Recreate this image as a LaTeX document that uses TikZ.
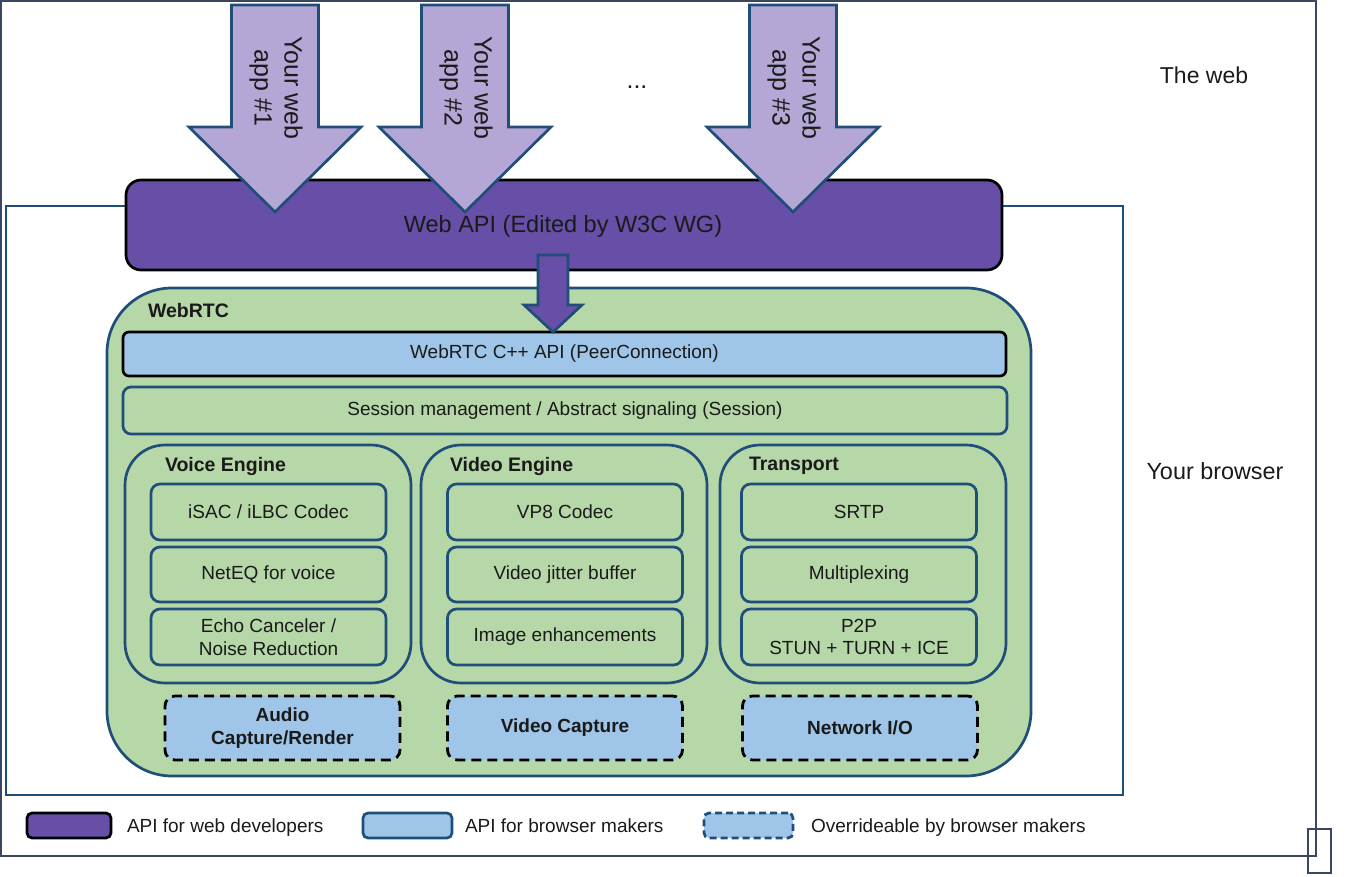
\documentclass[tikz,border=0pt]{standalone}
\usepackage{fontspec}
\setmainfont{Liberation Sans}
\definecolor{dblue}{HTML}{1F4E79}
\definecolor{purp}{HTML}{674EA7}
\definecolor{lav}{HTML}{B4A7D6}
\definecolor{grn}{HTML}{B6D7A8}
\definecolor{lblue}{HTML}{9FC5E8}
\definecolor{frame}{HTML}{3B4660}
\definecolor{txt}{HTML}{1A1A1A}
\tikzset{
  fs/.style={font=\fontsize{#1}{#1}\selectfont},
  plain/.style={inner sep=0pt, outer sep=0pt},
  sub/.style={plain, draw=dblue, line width=2.7pt, fill=grn, rounded corners=9pt,
    minimum width=235pt, align=center, text=txt, font=\fontsize{19}{22.5}\selectfont},
  engine/.style={plain, draw=dblue, line width=2.7pt, fill=grn, rounded corners=40pt,
    minimum width=286pt, minimum height=238pt},
  ovr/.style={plain, draw=black, line width=2.8pt, dash pattern=on 10pt off 6pt, fill=lblue,
    rounded corners=10pt, minimum width=235pt, minimum height=64pt, align=center, text=txt,
    font=\fontsize{19}{22.5}\selectfont\bfseries},
  lbl/.style={plain, anchor=west, text=txt, font=\fontsize{19.5}{22}\selectfont\bfseries},
  bigarrow/.style={draw=dblue, line width=2.7pt, fill=lav, line join=miter},
  apptext/.style={plain, rotate=-90, align=center, text=txt, font=\fontsize{25}{30}\selectfont},
  legtext/.style={plain, anchor=base west, text=txt, font=\fontsize{19}{22}\selectfont},
}
\begin{document}
\begin{tikzpicture}[x=1pt,y=-1pt]
\useasboundingbox (0,0) rectangle (1348,877);
% outer frame "The web"
\node[plain, draw=frame, line width=1.2pt, minimum width=1315pt, minimum height=855pt] (web) at (658.5,428.5) {};
\node[plain, draw=frame, line width=1.2pt, minimum width=23pt, minimum height=44pt] (corner) at (1319.5,851) {};
\node[plain, text=txt, fs=23] (webtxt) at (1204,75) {The web};
% browser frame
\node[plain, draw=dblue, line width=2.7pt, minimum width=1117pt, minimum height=589pt] (browser) at (564.5,500.5) {};
\node[plain, text=txt, fs=23.4] (browsertxt) at (1215,471) {Your browser};
% Web API
\node[plain, draw=black, line width=2.7pt, fill=purp, rounded corners=15pt, minimum width=876pt, minimum height=90pt] (webapi) at (564,225) {};
% app arrows
\foreach \c/\n in {275/1,465/2,793/3}{
  \draw[bigarrow] (\c-43.5,5) -- (\c+43.5,5) -- (\c+43.5,127) -- (\c+86,127) -- (\c,212) -- (\c-86,127) -- (\c-43.5,127) -- cycle;
  \node[apptext] (app\n) at (\c+1,88) {Your web\\app \#\n};
}
\node[plain, text=txt, fs=25] (dots) at (637,87) {...};
\node[plain, text=txt, fs=23.5] (webapitxt) at (563,226) {Web API (Edited by W3C WG)};
% WebRTC container
\node[plain, draw=dblue, line width=2.7pt, fill=grn, rounded corners=65pt, minimum width=924pt, minimum height=488pt] (webrtc) at (569,532) {};
\node[lbl] (webrtclbl) at (148,311) {WebRTC};
\node[plain, draw=black, line width=2.7pt, fill=lblue, rounded corners=6pt, minimum width=883pt, minimum height=44pt, text=txt, fs=19] (cpp) at (564.5,354) {WebRTC C++ API (PeerConnection)};
\node[plain, draw=dblue, line width=2.7pt, fill=grn, rounded corners=8pt, minimum width=884pt, minimum height=47pt, text=txt, fs=19] (session) at (565,410.5) {Session management / Abstract signaling (Session)};
% small arrow Web API -> C++ API
\draw[draw=dblue, line width=2.7pt, fill=purp, line join=miter] (538,255) -- (568,255) -- (568,305) -- (582,305) -- (553,332) -- (524,305) -- (538,305) -- cycle;
% engines
\node[engine] (voice) at (268,564) {};
\node[engine] (video) at (564,564) {};
\node[engine] (transport) at (863,564) {};
\node[lbl] (voicelbl) at (165,466) {Voice Engine};
\node[lbl] (videolbl) at (450,466) {Video Engine};
\node[lbl] (translbl) at (749,466) {Transport};
% voice sub boxes
\node[sub, minimum height=56pt] (isac) at (268.5,512) {iSAC / iLBC Codec};
\node[sub, minimum height=55pt] (neteq) at (268.5,574.5) {NetEQ for voice};
\node[sub, minimum height=56pt] (echo) at (268.5,637) {Echo Canceler /\\Noise Reduction};
% video sub boxes
\node[sub, minimum height=56pt] (vp8) at (565,512) {VP8 Codec};
\node[sub, minimum height=55pt] (jitter) at (565,574.5) {Video jitter buffer};
\node[sub, minimum height=56pt] (image) at (565,637) {Image enhancements};
% transport sub boxes
\node[sub, minimum height=56pt] (srtp) at (859,512) {SRTP};
\node[sub, minimum height=55pt] (mux) at (859,574.5) {Multiplexing};
\node[sub, minimum height=56pt] (p2p) at (859,637) {P2P\\STUN + TURN + ICE};
% overrideable
\node[ovr] (audiocap) at (282.5,728) {Audio\\Capture/Render};
\node[ovr] (videocap) at (565,728) {Video Capture};
\node[ovr] (netio) at (860,728) {Network I/O};
% legend
\node[plain, draw=black, line width=2.7pt, fill=purp, rounded corners=5pt, minimum width=84pt, minimum height=25pt] (leg1) at (69,825.5) {};
\node[legtext] (leg1t) at (127,832) {API for web developers};
\node[plain, draw=dblue, line width=2.7pt, fill=lblue, rounded corners=5pt, minimum width=89pt, minimum height=25pt] (leg2) at (407.5,825.5) {};
\node[legtext] (leg2t) at (465,832) {API for browser makers};
\node[plain, draw=dblue, line width=2.7pt, dash pattern=on 7pt off 4pt, fill=lblue, rounded corners=5pt, minimum width=89pt, minimum height=25pt] (leg3) at (748.5,825.5) {};
\node[legtext] (leg3t) at (811,832) {Overrideable by browser makers};
\end{tikzpicture}
\end{document}
